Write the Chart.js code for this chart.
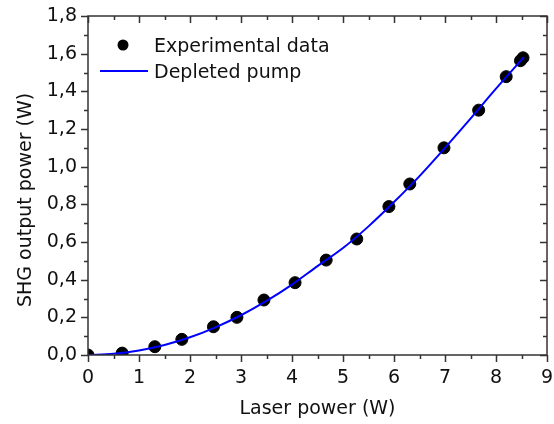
<!DOCTYPE html>
<html lang="en">
<head>
    <meta charset="UTF-8">
    <title>SHG output power vs laser power</title>
    <script src="https://cdn.jsdelivr.net/npm/chart.js"></script>
    <style>
        html, body { margin: 0; padding: 0; background: #fff; }
        #wrap { width: 554px; height: 424px; }
    </style>
</head>
<body>
    <div id="wrap"><canvas id="shgChart" width="554" height="424"></canvas></div>

    <script>
        // measured points
        const laserPower = [0, 0.67, 1.31, 1.84, 2.46, 2.92, 3.45, 4.06, 4.67, 5.27, 5.90, 6.31, 6.98, 7.66, 8.20, 8.48, 8.53];
        const shgPower = [0.0, 0.01, 0.044, 0.083, 0.150, 0.200, 0.292, 0.384, 0.504, 0.616, 0.788, 0.908, 1.100, 1.300, 1.478, 1.563, 1.578];

        // depleted pump curve
        const fitX = [0, 0.5, 1, 1.5, 2, 2.5, 3, 3.5, 4, 4.5, 5, 5.5, 6, 6.5, 7, 7.5, 8, 8.5, 8.55];
        const fitY = [0, 0.006, 0.024, 0.053, 0.094, 0.147, 0.211, 0.287, 0.374, 0.472, 0.568, 0.683, 0.812, 0.95, 1.10, 1.255, 1.414, 1.567, 1.582];

        const xTicks = [0, 1, 2, 3, 4, 5, 6, 7, 8, 9];
        const yTicks = [0, 0.2, 0.4, 0.6, 0.8, 1.0, 1.2, 1.4, 1.6, 1.8];

        const xTitle = 'Laser power (W)';
        const yTitle = 'SHG output power (W)';

        const font = { family: '"DejaVu Sans", sans-serif', size: 19 };
        const textColor = '#111';
        const axisColor = '#333';

        // frame + ticks (out on left/bottom, in on top/right)
        const frameTicks = {
            id: 'frameTicks',
            afterDatasetsDraw(chart) {
                const { ctx, chartArea: a, scales: { x, y } } = chart;
                ctx.save();
                ctx.strokeStyle = axisColor;
                ctx.lineWidth = 1.5;
                ctx.strokeRect(a.left, a.top, a.right - a.left, a.bottom - a.top);
                ctx.beginPath();
                for (let i = 0; i <= 18; i++) {
                    const px = Math.round(x.getPixelForValue(i * 0.5)) + 0.5;
                    const len = i % 2 === 0 ? 7 : 4;
                    ctx.moveTo(px, a.bottom); ctx.lineTo(px, a.bottom + len);
                    ctx.moveTo(px, a.top); ctx.lineTo(px, a.top + len);
                }
                for (let i = 0; i <= 18; i++) {
                    const py = Math.round(y.getPixelForValue(i * 0.1)) + 0.5;
                    const len = i % 2 === 0 ? 7 : 4;
                    ctx.moveTo(a.left, py); ctx.lineTo(a.left - len, py);
                    ctx.moveTo(a.right, py); ctx.lineTo(a.right - len, py);
                }
                ctx.stroke();

                // y axis title, sits a little below the centre like the original
                ctx.fillStyle = textColor;
                ctx.font = font.size + 'px ' + font.family;
                ctx.textAlign = 'center';
                ctx.textBaseline = 'middle';
                ctx.translate(26, 200);
                ctx.rotate(-Math.PI / 2);
                ctx.fillText(yTitle, 0, 0);
                ctx.restore();
            }
        };

        // legend inside the plot, top left
        const innerLegend = {
            id: 'innerLegend',
            afterDraw(chart) {
                const ctx = chart.ctx;
                const pts = chart.data.datasets[0];
                const fit = chart.data.datasets[1];
                ctx.save();
                ctx.fillStyle = pts.backgroundColor;
                ctx.beginPath();
                ctx.arc(123, 45, 5.5, 0, Math.PI * 2);
                ctx.fill();
                ctx.strokeStyle = fit.borderColor;
                ctx.lineWidth = 2;
                ctx.beginPath();
                ctx.moveTo(100, 71);
                ctx.lineTo(148, 71);
                ctx.stroke();
                ctx.fillStyle = textColor;
                ctx.font = font.size + 'px ' + font.family;
                ctx.textBaseline = 'alphabetic';
                ctx.fillText(pts.label, 154, 52);
                ctx.fillText(fit.label, 154, 78);
                ctx.restore();
            }
        };

        const ctx = document.getElementById('shgChart').getContext('2d');

        const shgChart = new Chart(ctx, {
            type: 'scatter',
            data: {
                datasets: [
                    {
                        label: 'Experimental data',
                        data: laserPower.map((v, i) => ({ x: v, y: shgPower[i] })),
                        backgroundColor: '#000',
                        borderColor: '#000',
                        pointRadius: 6,
                        pointHoverRadius: 6,
                        order: 1
                    },
                    {
                        label: 'Depleted pump',
                        type: 'line',
                        data: fitX.map((v, i) => ({ x: v, y: fitY[i] })),
                        borderColor: 'rgb(0, 0, 255)',
                        borderWidth: 2,
                        pointRadius: 0,
                        fill: false,
                        cubicInterpolationMode: 'monotone',
                        order: 0
                    }
                ]
            },
            options: {
                responsive: false,
                animation: false,
                layout: { padding: { top: 16, right: 7, left: 0, bottom: 0 } },
                plugins: {
                    legend: { display: false },
                    tooltip: { enabled: false }
                },
                scales: {
                    x: {
                        type: 'linear',
                        min: 0,
                        max: 9,
                        afterBuildTicks: (s) => { s.ticks = xTicks.map(v => ({ value: v })); },
                        grid: { display: false, drawTicks: false },
                        border: { display: false },
                        ticks: { font: font, color: textColor, padding: 12, maxRotation: 0 },
                        title: { display: true, text: xTitle, font: font, color: textColor, padding: { top: 5 } },
                        afterFit: (s) => { s.height = 69; s.paddingLeft = 0; s.paddingRight = 0; }
                    },
                    y: {
                        type: 'linear',
                        min: 0,
                        max: 1.8,
                        afterBuildTicks: (s) => { s.ticks = yTicks.map(v => ({ value: v })); },
                        grid: { display: false, drawTicks: false },
                        border: { display: false },
                        ticks: {
                            font: font,
                            color: textColor,
                            padding: 11,
                            callback: (v) => v.toFixed(1).replace('.', ',')
                        },
                        afterFit: (s) => { s.width = 88; s.paddingTop = 0; s.paddingBottom = 0; }
                    }
                }
            },
            plugins: [frameTicks, innerLegend]
        });
    </script>
</body>
</html>
